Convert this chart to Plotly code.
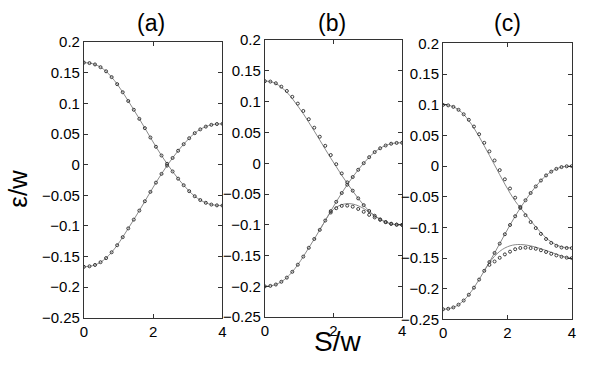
import plotly.graph_objects as go

# ---------------- data ----------------
S = [0.00, 0.16, 0.32, 0.48, 0.64, 0.80, 0.96, 1.12, 1.28, 1.44, 1.60, 1.76, 1.92,
     2.08, 2.24, 2.40, 2.56, 2.72, 2.88, 3.04, 3.20, 3.36, 3.52, 3.68, 3.84, 4.00]

# panel (a)
a_upper = [0.1667, 0.1659, 0.1637, 0.1592, 0.1525, 0.1430, 0.1315, 0.1183, 0.1040, 0.0897,
           0.0749, 0.0597, 0.0444, 0.0293, 0.0150, 0.0015, -0.0110, -0.0228, -0.0335, -0.0432,
           -0.0515, -0.0577, -0.0622, -0.0651, -0.0664, -0.0667]
a_lower = [-0.1667, -0.1659, -0.1637, -0.1592, -0.1525, -0.1430, -0.1315, -0.1183, -0.1040, -0.0897,
           -0.0749, -0.0597, -0.0444, -0.0293, -0.0150, -0.0015, 0.0110, 0.0228, 0.0335, 0.0432,
           0.0515, 0.0577, 0.0622, 0.0651, 0.0664, 0.0667]

# panel (b)
b_upper_line = [0.1335, 0.1328, 0.1295, 0.1235, 0.1155, 0.1050, 0.0930, 0.0805, 0.0666, 0.0523,
                0.0377, 0.0229, 0.0084, -0.0055, -0.0195, -0.0325, -0.0450, -0.0570, -0.0680, -0.0775,
                -0.0852, -0.0912, -0.0956, -0.0984, -0.0997, -0.1000]
b_upper_pts = [0.1335, 0.1328, 0.1300, 0.1245, 0.1175, 0.1080, 0.0970, 0.0850, 0.0716, 0.0578,
               0.0432, 0.0284, 0.0134, -0.0015, -0.0165, -0.0310, -0.0445, -0.0570, -0.0680, -0.0775,
               -0.0852, -0.0912, -0.0956, -0.0984, -0.0997, -0.1000]
b_lower = [-0.2000, -0.1992, -0.1970, -0.1925, -0.1858, -0.1763, -0.1648, -0.1516, -0.1373, -0.1230,
           -0.1082, -0.0930, -0.0777, -0.0626, -0.0483, -0.0348, -0.0223, -0.0105, 0.0002, 0.0099,
           0.0182, 0.0244, 0.0289, 0.0318, 0.0331, 0.0334]
b_hump_S = S[10:]
b_hump_line = [-0.1082, -0.0932, -0.0795, -0.0715, -0.0672, -0.0656, -0.0662, -0.0690, -0.0735,
               -0.0790, -0.0852, -0.0908, -0.0954, -0.0983, -0.0997, -0.1000]
b_hump_pts_S = S[12:]
b_hump_pts = [-0.0800, -0.0730, -0.0692, -0.0688, -0.0705, -0.0742, -0.0788, -0.0838, -0.0880,
              -0.0918, -0.0955, -0.0982, -0.0997, -0.1000]

# panel (c)
c_upper_line = [0.1000, 0.0992, 0.0968, 0.0918, 0.0843, 0.0743, 0.0620, 0.0481, 0.0330, 0.0175,
                0.0018, -0.0140, -0.0293, -0.0440, -0.0570, -0.0680, -0.0785, -0.0890, -0.0990, -0.1085,
                -0.1170, -0.1235, -0.1285, -0.1315, -0.1330, -0.1333]
c_upper_pts = [0.0998, 0.0990, 0.0966, 0.0918, 0.0845, 0.0755, 0.0645, 0.0520, 0.0380, 0.0240,
               0.0092, -0.0065, -0.0215, -0.0365, -0.0515, -0.0665, -0.0800, -0.0912, -0.1010, -0.1105,
               -0.1188, -0.1252, -0.1300, -0.1327, -0.1335, -0.1336]
c_lower = [-0.2334, -0.2326, -0.2304, -0.2259, -0.2192, -0.2097, -0.1982, -0.1850, -0.1707, -0.1564,
           -0.1416, -0.1264, -0.1111, -0.0960, -0.0817, -0.0682, -0.0557, -0.0439, -0.0332, -0.0235,
           -0.0152, -0.0090, -0.0045, -0.0016, -0.0003, 0.0000]
c_hump_S = S[8:]
c_hump_line = [-0.1707, -0.1575, -0.1470, -0.1390, -0.1335, -0.1300, -0.1282, -0.1278, -0.1285,
               -0.1300, -0.1322, -0.1348, -0.1375, -0.1405, -0.1435, -0.1468, -0.1490, -0.1500]
c_hump_pts_S = S[9:]
c_hump_pts = [-0.1610, -0.1555, -0.1495, -0.1440, -0.1395, -0.1355, -0.1335, -0.1330, -0.1336,
              -0.1348, -0.1372, -0.1400, -0.1430, -0.1456, -0.1478, -0.1493, -0.1500]

panel_titles = ["(a)", "(b)", "(c)"]
x_ticks = [0, 2, 4]
y_ticks = [0.2, 0.15, 0.1, 0.05, 0, -0.05, -0.1, -0.15, -0.2, -0.25]
y_ticktext = ["0.2", "0.15", "0.1", "0.05", "0", "\u22120.05", "\u22120.1", "\u22120.15", "\u22120.2", "\u22120.25"]

# ---------------- figure ----------------
LINE_COLOR = "#8a8a8a"
MARK_COLOR = "#3a3a3a"
FONT = "Liberation Sans, Arial, Helvetica, sans-serif"

fig = go.Figure()

panels = [
    ([(S, a_upper), (S, a_lower)],
     [(S, a_upper), (S, a_lower)]),
    ([(S, b_upper_line), (S, b_lower), (b_hump_S, b_hump_line)],
     [(S, b_upper_pts), (S, b_lower), (b_hump_pts_S, b_hump_pts)]),
    ([(S, c_upper_line), (S, c_lower), (c_hump_S, c_hump_line)],
     [(S, c_upper_pts), (S, c_lower), (c_hump_pts_S, c_hump_pts)]),
]

for i, (lines, marks) in enumerate(panels):
    xa = "x" if i == 0 else f"x{i+1}"
    ya = "y" if i == 0 else f"y{i+1}"
    for xs, ys in lines:
        fig.add_trace(go.Scatter(x=xs, y=ys, mode="lines", xaxis=xa, yaxis=ya,
                                 line=dict(color=LINE_COLOR, width=1, shape="spline"),
                                 showlegend=False, hoverinfo="skip"))
    for xs, ys in marks:
        fig.add_trace(go.Scatter(x=xs, y=ys, mode="markers", xaxis=xa, yaxis=ya,
                                 marker=dict(symbol="circle-open", size=3, color=MARK_COLOR,
                                             line=dict(width=1, color=MARK_COLOR)),
                                 showlegend=False, hoverinfo="skip"))

W, H = 600, 372
# panel frames in page pixels (left, right, top, bottom)
frames = [(81.0, 221.4, 34.8, 323.6), (264.4, 403.5, 32.7, 322.9), (445.0, 575.5, 36.1, 325.3)]

axis_common = dict(ticks="inside", ticklen=4, tickcolor="#333", showline=True, linecolor="#333",
                   linewidth=1, mirror="ticks", showgrid=False, zeroline=False,
                   tickfont=dict(family=FONT, size=15, color="black"), fixedrange=True)

layout = dict(width=W, height=H, autosize=False, margin=dict(l=0, r=0, t=0, b=0, pad=0),
              paper_bgcolor="white", plot_bgcolor="white", showlegend=False)
for i, (l, r, t, b) in enumerate(frames):
    xk = "xaxis" if i == 0 else f"xaxis{i+1}"
    yk = "yaxis" if i == 0 else f"yaxis{i+1}"
    ya = "y" if i == 0 else f"y{i+1}"
    xa = "x" if i == 0 else f"x{i+1}"
    layout[xk] = dict(domain=[l / W, r / W], anchor=ya, range=[0, 4], tickvals=x_ticks,
                      ticktext=[str(v) for v in x_ticks], **axis_common)
    layout[yk] = dict(domain=[1 - b / H, 1 - t / H], anchor=xa, range=[-0.25, 0.2], tickvals=y_ticks,
                      ticktext=y_ticktext, **axis_common)

title_x = [149, 332.5, 510.5]
annotations = []
for txt, tx in zip(panel_titles, title_x):
    annotations.append(dict(text=txt, x=tx / W, y=1 - 15 / H, xref="paper", yref="paper",
                            xanchor="center", yanchor="middle", showarrow=False,
                            font=dict(family=FONT, size=23, color="black")))
annotations.append(dict(text="\u03b5/w", x=14.5 / W, y=1 - 188 / H, xref="paper", yref="paper",
                        xanchor="center", yanchor="middle", showarrow=False, textangle=-90,
                        font=dict(family=FONT, size=26, color="black")))
annotations.append(dict(text="S/w", x=337.5 / W, y=1 - 348.5 / H, xref="paper", yref="paper",
                        xanchor="center", yanchor="middle", showarrow=False,
                        font=dict(family=FONT, size=28, color="black")))
layout["annotations"] = annotations

fig.update_layout(**layout)
fig.write_html("out.html", config={"displayModeBar": False, "staticPlot": True},
               post_script="document.body.style.margin='0';document.body.style.padding='0';"
                           "document.body.style.overflow='hidden';")
